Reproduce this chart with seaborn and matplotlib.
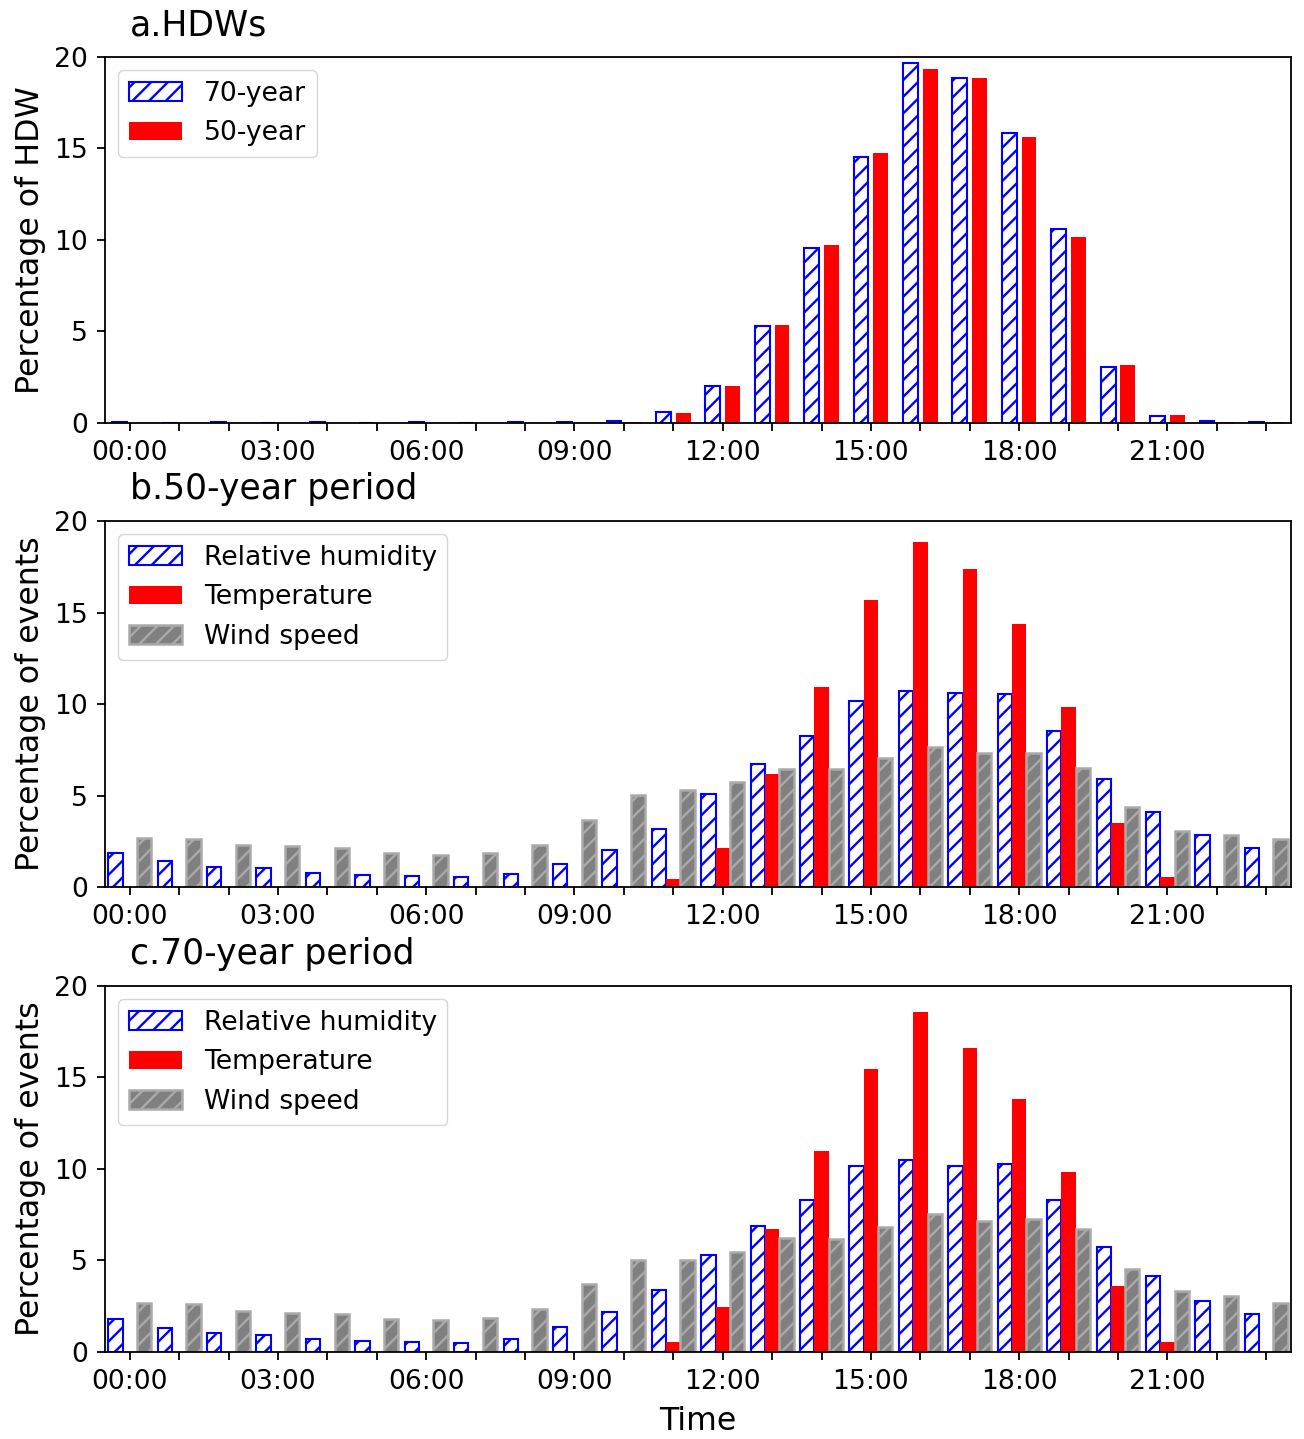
import matplotlib
matplotlib.use("Agg")
import matplotlib.pyplot as plt
import matplotlib.transforms as mtransforms
from matplotlib.patches import Patch
import seaborn as sns
import pandas as pd

# ---------------- data ----------------
hours = ["00:00", "01:00", "02:00", "03:00", "04:00", "05:00", "06:00", "07:00",
         "08:00", "09:00", "10:00", "11:00", "12:00", "13:00", "14:00", "15:00",
         "16:00", "17:00", "18:00", "19:00", "20:00", "21:00", "22:00", "23:00"]
tick_labels = ["00:00", "", "", "03:00", "", "", "06:00", "", "", "09:00", "", "",
               "12:00", "", "", "15:00", "", "", "18:00", "", "", "21:00", "", ""]

# a. HDWs
hdw_70 = [0.04, 0.02, 0.04, 0.02, 0.03, 0.02, 0.03, 0.02, 0.03, 0.04, 0.10, 0.62,
          2.04, 5.32, 9.55, 14.54, 19.67, 18.85, 15.85, 10.60, 3.06, 0.38, 0.10, 0.06]
hdw_50 = [0.02, 0.02, 0.02, 0.02, 0.02, 0.02, 0.02, 0.02, 0.02, 0.02, 0.05, 0.55,
          2.04, 5.34, 9.74, 14.75, 19.34, 18.85, 15.63, 10.15, 3.17, 0.44, 0.05, 0.03]

# b. 50-year period
rh_50 = [1.86, 1.40, 1.11, 1.02, 0.78, 0.67, 0.60, 0.55, 0.73, 1.28, 2.00, 3.16,
         5.07, 6.70, 8.27, 10.18, 10.69, 10.60, 10.55, 8.54, 5.89, 4.11, 2.83, 2.15]
temp_50 = [0.0, 0.0, 0.0, 0.0, 0.0, 0.0, 0.0, 0.0, 0.0, 0.0, 0.0, 0.44,
           2.12, 6.19, 10.93, 15.66, 18.83, 17.39, 14.38, 9.82, 3.49, 0.53, 0.07, 0.0]
wind_50 = [2.66, 2.60, 2.31, 2.22, 2.11, 1.84, 1.75, 1.86, 2.30, 3.68, 5.05, 5.29,
           5.75, 6.44, 6.44, 7.03, 7.63, 7.30, 7.30, 6.53, 4.38, 3.08, 2.86, 2.65]

# c. 70-year period
rh_70 = [1.79, 1.32, 1.06, 0.93, 0.71, 0.60, 0.57, 0.51, 0.73, 1.36, 2.18, 3.38,
         5.31, 6.86, 8.28, 10.15, 10.47, 10.16, 10.26, 8.30, 5.73, 4.16, 2.81, 2.10]
temp_70 = [0.0, 0.0, 0.0, 0.0, 0.0, 0.0, 0.0, 0.0, 0.0, 0.0, 0.02, 0.57,
           2.48, 6.70, 11.00, 15.47, 18.58, 16.62, 13.83, 9.82, 3.61, 0.57, 0.05, 0.0]
wind_70 = [2.66, 2.60, 2.23, 2.14, 2.09, 1.79, 1.72, 1.87, 2.33, 3.70, 5.04, 5.04,
           5.47, 6.24, 6.15, 6.81, 7.52, 7.14, 7.26, 6.72, 4.53, 3.32, 3.08, 2.68]

titles = ["a.HDWs", "b.50-year period", "c.70-year period"]
ylabels = ["Percentage of HDW", "Percentage of events", "Percentage of events"]

# ---------------- styles ----------------
STYLES = {
    "70-year": dict(face="white", edge="blue", hatch="//", lw=1.5),
    "50-year": dict(face="red", edge="red", hatch=None, lw=0.0),
    "Relative humidity": dict(face="white", edge="blue", hatch="//", lw=1.5),
    "Temperature": dict(face="red", edge="red", hatch=None, lw=0.0),
    "Wind speed": dict(face="#808080", edge="#aaaaaa", hatch="//", lw=1.8),
}

plt.rcParams.update({
    "font.family": ["DejaVu Sans"],
    "hatch.linewidth": 1.7,
    "axes.linewidth": 1.3,
})

TICK_FS = 19.2
LEGEND_FS = 19.2
LABEL_FS = 22.8
TITLE_FS = 24.9


def long_df(series):
    rows = []
    for name, vals in series:
        for h, v in zip(hours, vals):
            rows.append({"hour": h, "series": name, "value": v})
    return pd.DataFrame(rows)


def draw(ax, series, width, gap, title, ylabel):
    order = [name for name, _ in series]
    df = long_df(series)
    sns.barplot(data=df, x="hour", y="value", hue="series", order=hours,
                hue_order=order, palette=[STYLES[n]["face"] for n in order],
                width=width, gap=gap, dodge=True, errorbar=None, saturation=1,
                legend=False, ax=ax)
    for cont, name in zip(ax.containers, order):
        st = STYLES[name]
        for p in cont.patches:
            p.set_facecolor(st["face"])
            p.set_edgecolor(st["edge"])
            p.set_linewidth(st["lw"])
            if st["hatch"]:
                p.set_hatch(st["hatch"])
            if hasattr(p, "set_hatchcolor"):
                p.set_hatchcolor(st["edge"])
    handles = [Patch(facecolor=STYLES[n]["face"], edgecolor=STYLES[n]["edge"],
                     hatch=STYLES[n]["hatch"], linewidth=STYLES[n]["lw"], label=n)
               for n in order]
    ax.legend(handles=handles, loc="upper left", fontsize=LEGEND_FS)
    ax.set_xlim(-0.5, 23.5)
    ax.set_ylim(0, 20)
    ax.set_yticks([0, 5, 10, 15, 20])
    ax.set_xticks(range(len(hours)))
    ax.set_xticklabels(tick_labels)
    ax.tick_params(labelsize=TICK_FS, length=5.7, width=1.3, pad=6.5)
    ax.set_ylabel(ylabel, fontsize=LABEL_FS, labelpad=6)
    ax.set_xlabel("")
    trans = mtransforms.blended_transform_factory(ax.transData, ax.transAxes)
    ax.text(0, 1.06, title, transform=trans, fontsize=TITLE_FS,
            ha="left", va="baseline")
    for s in ax.spines.values():
        s.set_linewidth(1.3)


fig = plt.figure(figsize=(13.04, 14.39), dpi=100)
left, width_ax, height_ax = 0.0805, 0.9095, 0.2543
bottoms = [0.7061, 0.3836, 0.0605]
axes = [fig.add_axes([left, b, width_ax, height_ax]) for b in bottoms]

draw(axes[0], [("70-year", hdw_70), ("50-year", hdw_50)], 0.8, 0.25,
     titles[0], ylabels[0])
draw(axes[1], [("Relative humidity", rh_50), ("Temperature", temp_50),
               ("Wind speed", wind_50)], 0.87, 0.0, titles[1], ylabels[1])
draw(axes[2], [("Relative humidity", rh_70), ("Temperature", temp_70),
               ("Wind speed", wind_70)], 0.87, 0.0, titles[2], ylabels[2])
axes[2].set_xlabel("Time", fontsize=LABEL_FS, labelpad=8)

fig.savefig("out.png", dpi=100)
